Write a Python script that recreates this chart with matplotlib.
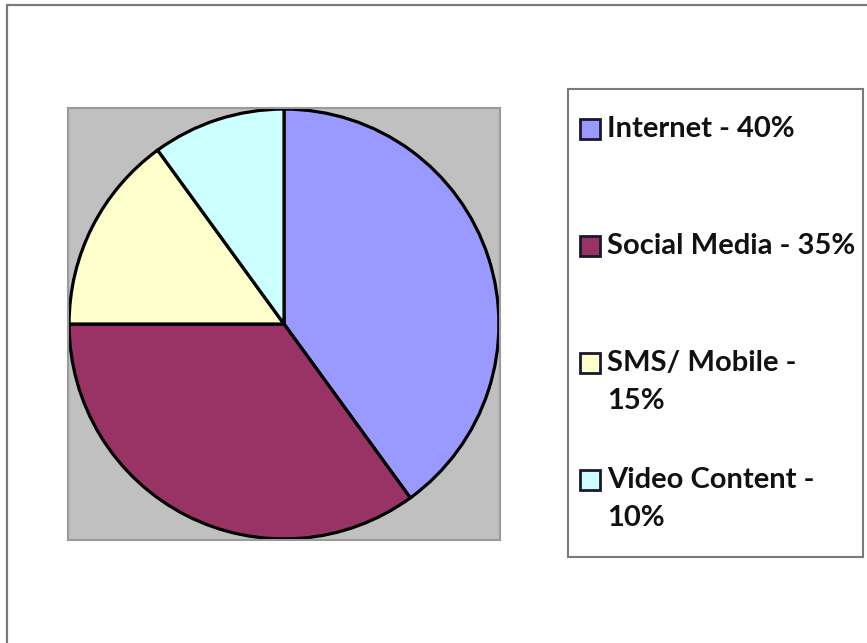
import matplotlib
matplotlib.use("Agg")
import matplotlib.pyplot as plt
from matplotlib.patches import Rectangle

# channel shares
channels = ["Internet", "Social Media", "SMS/ Mobile", "Video Content"]
shares = [40, 35, 15, 10]
legend_labels = ["Internet - 40%", "Social Media - 35%", "SMS/ Mobile -\n15%", "Video Content -\n10%"]
colors = ["#9999ff", "#993366", "#ffffcc", "#ccffff"]

W, H = 867, 643
fig = plt.figure(figsize=(W / 100, H / 100), dpi=100)
fig.patch.set_facecolor("white")

def box(x0, y0, x1, y1):
    # pixel box (top-left origin) -> figure fraction rect
    return [x0 / W, 1 - y1 / H, (x1 - x0) / W, (y1 - y0) / H]

# outer chart frame, runs off the right and bottom edge
fig.add_artist(Rectangle((7 / W, -0.1), 1.0, 1 - 5 / H + 0.1, transform=fig.transFigure,
                         fill=False, edgecolor="#7a7a7a", lw=1.6))

# plot area with the pie
ax = fig.add_axes(box(68, 108, 500, 540))
ax.pie(shares, colors=colors, startangle=90, counterclock=False, radius=1.0,
       wedgeprops=dict(edgecolor="black", linewidth=2.3))
ax.set_frame_on(True)
ax.set_facecolor("#c0c0c0")
for s in ax.spines.values():
    s.set_edgecolor("#9a9a9a")
    s.set_linewidth(1.5)
ax.set_xlim(-1.005, 1.005)
ax.set_ylim(-1.005, 1.005)
ax.set_aspect("auto")
ax.set_xticks([])
ax.set_yticks([])

# legend box, drawn in pixel units
lg = fig.add_axes(box(568, 89, 863, 557))
lg.set_xlim(568, 863)
lg.set_ylim(557, 89)
lg.set_xticks([])
lg.set_yticks([])
for s in lg.spines.values():
    s.set_edgecolor("#7a7a7a")
    s.set_linewidth(1.5)

for i, (lab, c) in enumerate(zip(legend_labels, colors)):
    yc = 129 + i * 117
    lg.add_patch(Rectangle((580, yc - 10), 20, 20, facecolor=c, edgecolor="#1a1a2e", lw=2.0))
    lg.text(607, yc - 13, lab, ha="left", va="top", fontsize=21, fontweight="bold",
            family="Lato", color="#111111", linespacing=1.58)

fig.savefig("out.png", dpi=100)
